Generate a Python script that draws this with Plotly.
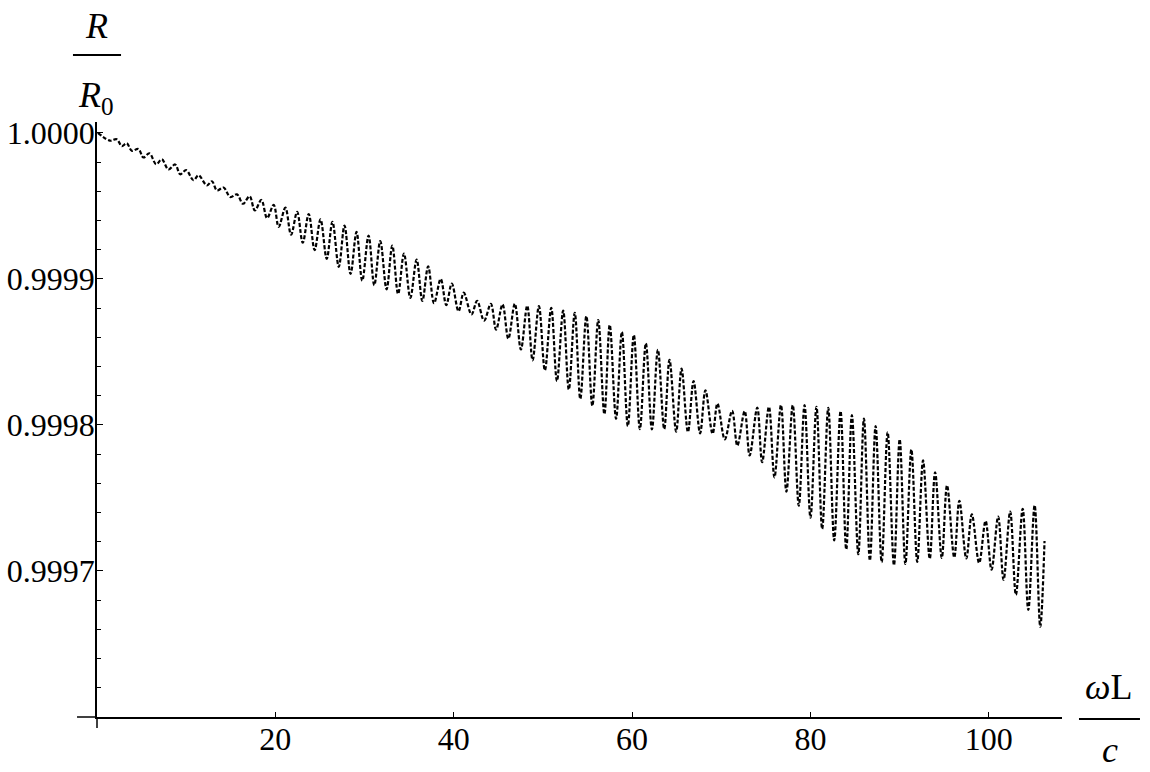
import plotly.graph_objects as go

# omega*L/c values at the read-off extrema of the curve
x_vals = [
    0.10, 1.46, 2.21, 2.78, 3.34, 3.90, 4.64, 5.20, 5.88, 6.63,
    7.27, 8.01, 8.76, 9.33, 10.00, 10.82, 11.38, 12.33, 12.89, 13.45,
    14.19, 14.94, 15.70, 16.37, 17.11, 17.70, 18.43, 19.07, 19.81, 20.37,
    21.12, 21.76, 22.44, 23.07, 23.74, 24.40, 25.06, 25.76, 26.40, 27.11,
    27.75, 28.43, 29.10, 29.74, 30.45, 31.09, 31.76, 32.47, 33.11, 33.76,
    34.42, 35.13, 35.84, 36.48, 37.13, 37.79, 38.54, 39.16, 39.78, 40.54,
    41.12, 41.99, 42.62, 43.40, 44.16, 44.75, 45.47, 46.12, 46.85, 47.53,
    48.24, 48.84, 49.55, 50.22, 50.93, 51.57, 52.27, 52.90, 53.57, 54.19,
    54.87, 55.54, 56.20, 56.89, 57.49, 58.20, 58.85, 59.52, 60.19, 60.87,
    61.54, 62.22, 62.89, 63.60, 64.19, 64.94, 65.54, 66.26, 66.89, 67.62,
    68.22, 69.02, 69.57, 70.39, 71.21, 71.80, 72.62, 73.18, 74.03, 74.58,
    75.34, 75.96, 76.69, 77.30, 78.01, 78.69, 79.33, 80.00, 80.67, 81.31,
    81.99, 82.66, 83.37, 84.01, 84.64, 85.36, 85.99, 86.66, 87.30, 87.98,
    88.65, 89.36, 90.00, 90.64, 91.31, 91.97, 92.62, 93.37, 93.97, 94.72,
    95.31, 96.12, 96.69, 97.47, 98.09, 98.91, 99.63, 100.30, 101.04, 101.65,
    102.39, 103.03, 103.79, 104.42, 105.13, 105.76, 106.24,
]

# R/R0 values at those points
r_vals = [
    1.0000000, 0.9999947, 0.9999957, 0.9999910, 0.9999929, 0.9999878, 0.9999890, 0.9999832, 0.9999860, 0.9999786,
    0.9999819, 0.9999750, 0.9999784, 0.9999717, 0.9999745, 0.9999676, 0.9999710, 0.9999641, 0.9999669, 0.9999607,
    0.9999626, 0.9999561, 0.9999579, 0.9999515, 0.9999566, 0.9999469, 0.9999541, 0.9999417, 0.9999507, 0.9999357,
    0.9999488, 0.9999303, 0.9999459, 0.9999248, 0.9999445, 0.9999198, 0.9999408, 0.9999138, 0.9999391, 0.9999083,
    0.9999366, 0.9999034, 0.9999322, 0.9998988, 0.9999297, 0.9998957, 0.9999259, 0.9998929, 0.9999228, 0.9998897,
    0.9999174, 0.9998871, 0.9999132, 0.9998850, 0.9999086, 0.9998834, 0.9999000, 0.9998821, 0.9998968, 0.9998779,
    0.9998906, 0.9998757, 0.9998850, 0.9998715, 0.9998830, 0.9998653, 0.9998826, 0.9998591, 0.9998830, 0.9998517,
    0.9998817, 0.9998443, 0.9998814, 0.9998374, 0.9998802, 0.9998301, 0.9998784, 0.9998243, 0.9998768, 0.9998179,
    0.9998745, 0.9998131, 0.9998719, 0.9998074, 0.9998685, 0.9998043, 0.9998637, 0.9997993, 0.9998616, 0.9997972,
    0.9998559, 0.9997970, 0.9998515, 0.9997972, 0.9998446, 0.9997954, 0.9998386, 0.9997952, 0.9998301, 0.9997943,
    0.9998237, 0.9997940, 0.9998147, 0.9997902, 0.9998097, 0.9997859, 0.9998094, 0.9997791, 0.9998119, 0.9997745,
    0.9998124, 0.9997641, 0.9998136, 0.9997543, 0.9998136, 0.9997448, 0.9998136, 0.9997366, 0.9998124, 0.9997288,
    0.9998117, 0.9997210, 0.9998094, 0.9997147, 0.9998067, 0.9997115, 0.9998043, 0.9997072, 0.9997993, 0.9997061,
    0.9997950, 0.9997040, 0.9997901, 0.9997048, 0.9997832, 0.9997063, 0.9997757, 0.9997084, 0.9997676, 0.9997090,
    0.9997586, 0.9997093, 0.9997481, 0.9997086, 0.9997388, 0.9997055, 0.9997343, 0.9997009, 0.9997372, 0.9996940,
    0.9997407, 0.9996837, 0.9997426, 0.9996733, 0.9997450, 0.9996619, 0.9997205,
]

x_tick_vals = [20, 40, 60, 80, 100]
x_tick_text = ["20", "40", "60", "80", "100"]
y_tick_vals = [0.9997, 0.9998, 0.9999, 1.0]
y_tick_text = ["0.9997", "0.9998", "0.9999", "1.0000"]
y_minor_vals = [0.99962, 0.99964, 0.99966, 0.99968,
                0.99972, 0.99974, 0.99976, 0.99978,
                0.99982, 0.99984, 0.99986, 0.99988,
                0.99992, 0.99994, 0.99996, 0.99998]

FONT = "Liberation Serif"

fig = go.Figure()
fig.add_trace(go.Scatter(
    x=x_vals, y=r_vals, mode="lines",
    line=dict(color="black", width=2.2, dash="4px,2px", shape="spline", smoothing=1.0),
    hoverinfo="skip", showlegend=False,
))

fig.update_layout(
    template="none",
    width=1150, height=772,
    margin=dict(l=97, r=88, t=122, b=55, pad=0, autoexpand=False),
    paper_bgcolor="white", plot_bgcolor="white",
    showlegend=False,
    font=dict(family=FONT, color="black"),
    xaxis=dict(
        range=[0, 108.2], showgrid=False, zeroline=False, automargin=False,
        showline=True, linecolor="black", linewidth=1.5,
        ticks="inside", ticklen=5, tickwidth=1.2, tickcolor="black",
        tickmode="array", tickvals=x_tick_vals, ticktext=x_tick_text,
        tickfont=dict(family=FONT, size=32, color="black"),
        ticklabelstandoff=-7,
    ),
    yaxis=dict(
        range=[0.9996, 1.0000075], showgrid=False, zeroline=False, automargin=False,
        showline=True, linecolor="black", linewidth=1.5,
        ticks="inside", ticklen=6, tickwidth=1.2, tickcolor="black",
        tickmode="array", tickvals=y_tick_vals, ticktext=y_tick_text,
        tickfont=dict(family=FONT, size=32, color="black"),
        ticklabelstandoff=-6,
        minor=dict(tickmode="array", tickvals=y_minor_vals, ticks="inside",
                   ticklen=4, tickwidth=1, tickcolor="black"),
    ),
)

# axis extensions beyond the crossing point
fig.add_shape(type="line", xref="paper", yref="paper", x0=-0.0207, x1=0, y0=0, y1=0,
              line=dict(color="black", width=1.5))
fig.add_shape(type="line", xref="paper", yref="paper", x0=0, x1=0, y0=-0.0185, y1=0,
              line=dict(color="black", width=1.5))

# y-axis label: R / R0
fig.add_annotation(xref="paper", yref="paper", x=-0.001, y=1.162, text="<i>R</i>",
                   showarrow=False, font=dict(family=FONT, size=36, color="black"),
                   xanchor="center", yanchor="middle")
fig.add_shape(type="line", xref="paper", yref="paper", x0=-0.0249, x1=0.0249,
              y0=1.1126, y1=1.1126, line=dict(color="black", width=2))
fig.add_annotation(xref="paper", yref="paper", x=-0.001, y=1.042,
                   text="<i>R</i><sub>0</sub>",
                   showarrow=False, font=dict(family=FONT, size=36, color="black"),
                   xanchor="center", yanchor="middle")

# x-axis label: omega L / c
fig.add_annotation(xref="paper", yref="paper", x=1.0487, y=0.050,
                   text="<i>ω</i>L",
                   showarrow=False, font=dict(family=FONT, size=36, color="black"),
                   xanchor="center", yanchor="middle")
fig.add_shape(type="line", xref="paper", yref="paper", x0=1.0176, x1=1.0808,
              y0=-0.0034, y1=-0.0034, line=dict(color="black", width=2))
fig.add_annotation(xref="paper", yref="paper", x=1.0497, y=-0.0924,
                   text="<i>c</i>",
                   showarrow=False, font=dict(family=FONT, size=36, color="black"),
                   xanchor="center", yanchor="bottom", height=38, valign="bottom")

fig.write_html("out.html", config={"displayModeBar": False},
               post_script="document.body.style.margin='0';")
